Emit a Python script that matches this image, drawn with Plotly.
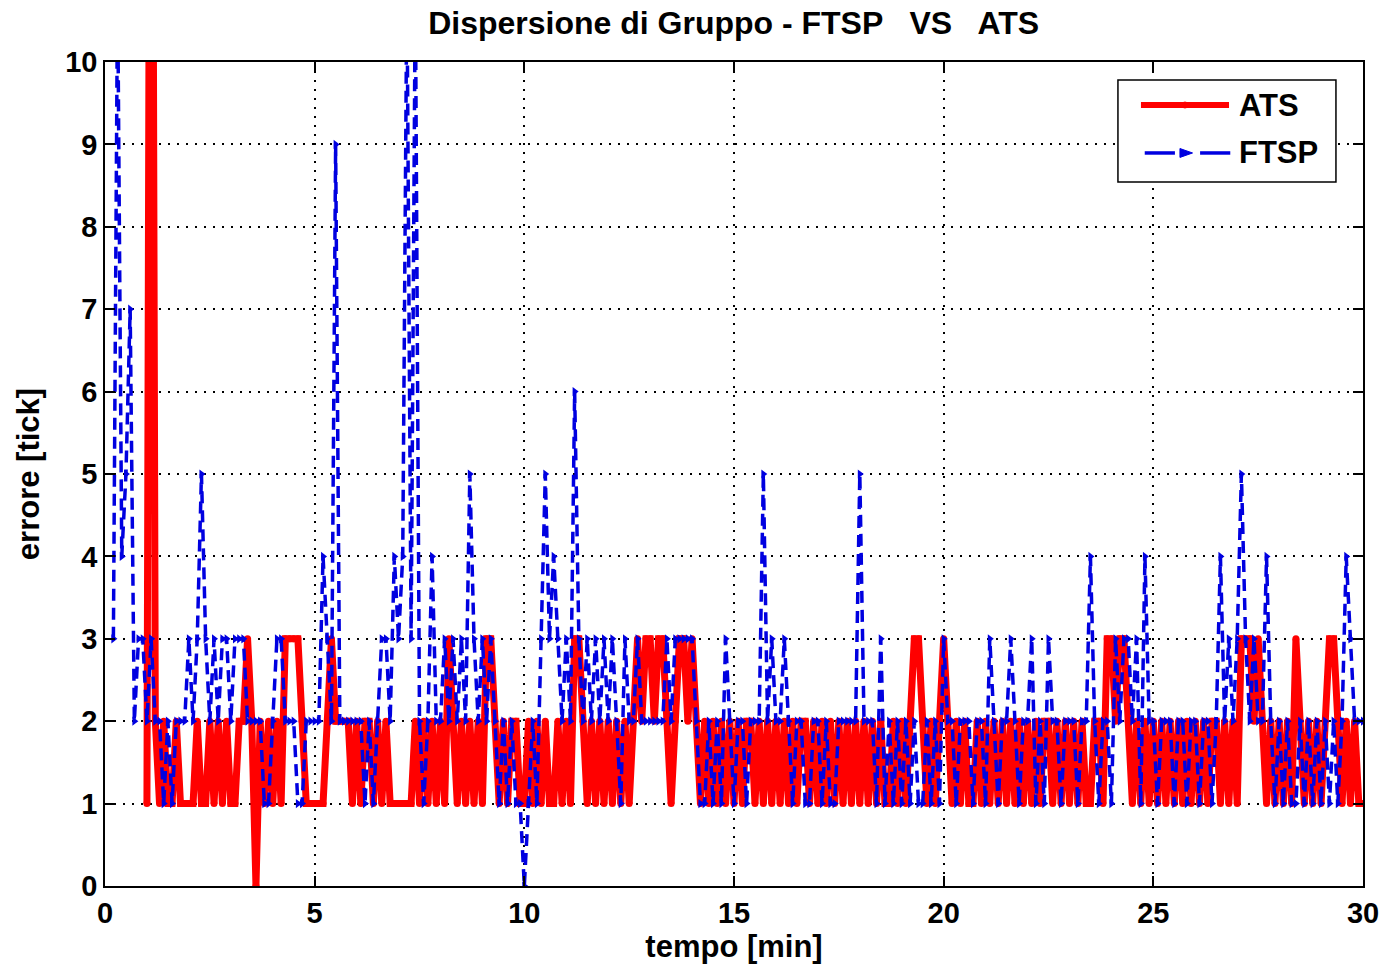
import plotly.graph_objects as go

ats_start = 1.0
ats_values = [
    1, 20, 2, 1, 2, 1, 1, 2, 1, 1,   # 1.0-1.9
    1, 1, 2, 1, 1, 2, 1, 2, 1, 2,    # 2
    1, 1, 2, 2, 3, 2, 0, 2, 1, 2,    # 3
    1, 2, 1, 3, 3, 3, 3, 2, 1, 1,    # 4
    1, 1, 1, 2, 3, 2, 2, 2, 2, 1,    # 5
    2, 1, 2, 2, 1, 2, 1, 2, 1, 1,    # 6
    1, 1, 1, 1, 2, 1, 2, 1, 2, 1,    # 7
    2, 1, 3, 2, 1, 2, 1, 2, 1, 2,    # 8
    1, 3, 3, 2, 1, 2, 1, 2, 2, 1,    # 9
    1, 2, 1, 2, 1, 2, 1, 1, 2, 1,    # 10
    2, 1, 3, 3, 2, 1, 2, 1, 2, 1,    # 11
    2, 1, 2, 1, 2, 1, 2, 3, 2, 3,    # 12
    3, 2, 3, 3, 2, 1, 2, 3, 3, 2,    # 13
    3, 2, 1, 2, 1, 2, 1, 2, 1, 2,    # 14
    1, 2, 1, 2, 2, 1, 2, 1, 2, 1,    # 15
    2, 1, 2, 1, 2, 1, 2, 2, 1, 2,    # 16
    1, 2, 1, 2, 1, 2, 1, 2, 1, 2,    # 17
    1, 2, 1, 2, 1, 2, 1, 1, 2, 1,    # 18
    2, 1, 2, 3, 3, 2, 1, 2, 1, 2,    # 19
    3, 2, 1, 2, 1, 2, 1, 1, 2, 1,    # 20
    2, 1, 2, 1, 2, 1, 2, 1, 2, 1,    # 21
    2, 1, 2, 1, 2, 2, 1, 2, 1, 2,    # 22
    1, 2, 1, 2, 1, 1, 2, 2, 1, 3,    # 23
    3, 2, 3, 3, 2, 1, 2, 1, 2, 1,    # 24
    2, 1, 2, 1, 2, 1, 2, 1, 2, 1,    # 25
    2, 1, 2, 1, 2, 2, 1, 2, 1, 2,    # 26
    1, 3, 3, 3, 2, 3, 2, 1, 2, 1,    # 27
    2, 1, 2, 1, 3, 2, 1, 2, 1, 2,    # 28
    1, 2, 3, 3, 2, 1, 2, 1, 2, 1,    # 29
    1,                               # 30.0
]

ftsp_start = 0.2
ftsp_values = [
    3, 11, 4, 5, 7, 2, 3, 3,         # 0.2-0.9
    2, 3, 2, 2, 1, 2, 1, 2, 2, 2,    # 1
    3, 2, 3, 5, 3, 2, 3, 2, 3, 3,    # 2
    2, 3, 3, 3, 2, 2, 2, 2, 1, 1,    # 3
    2, 3, 3, 2, 2, 2, 1, 1, 2, 2,    # 4
    2, 2, 4, 3, 2, 9, 2, 2, 2, 2,    # 5
    2, 2, 1, 2, 1, 2, 3, 3, 2, 4,    # 6
    3, 4, 11, 3, 11, 2, 1, 2, 4, 2,  # 7
    2, 3, 2, 3, 2, 3, 2, 5, 3, 2,    # 8
    3, 2, 3, 2, 1, 2, 1, 2, 1, 1,    # 9
    0, 1, 2, 1, 3, 5, 3, 4, 3, 2,    # 10
    3, 2, 6, 3, 2, 3, 2, 3, 2, 3,    # 11
    2, 3, 2, 1, 3, 2, 2, 3, 2, 2,    # 12
    2, 2, 2, 2, 3, 2, 3, 3, 3, 3,    # 13
    3, 2, 1, 1, 2, 1, 2, 1, 3, 2,    # 14
    1, 2, 2, 1, 2, 2, 2, 5, 2, 3,    # 15
    2, 2, 3, 2, 1, 2, 2, 1, 1, 2,    # 16
    2, 1, 2, 1, 1, 2, 2, 2, 2, 2,    # 17
    5, 2, 2, 2, 1, 3, 1, 2, 1, 2,    # 18
    1, 2, 1, 2, 1, 1, 2, 1, 2, 1,    # 19
    3, 2, 2, 1, 2, 2, 2, 1, 2, 2,    # 20
    1, 3, 2, 1, 2, 2, 3, 2, 1, 2,    # 21
    2, 3, 1, 2, 1, 3, 2, 2, 1, 2,    # 22
    2, 2, 1, 2, 2, 4, 2, 1, 2, 2,    # 23
    1, 3, 2, 3, 3, 2, 3, 1, 4, 2,    # 24
    2, 1, 2, 2, 2, 1, 2, 2, 1, 2,    # 25
    2, 1, 2, 2, 1, 2, 4, 2, 3, 2,    # 26
    3, 5, 3, 2, 3, 2, 2, 4, 2, 1,    # 27
    2, 1, 2, 1, 1, 2, 1, 2, 1, 2,    # 28
    1, 2, 1, 2, 1, 2, 4, 3, 2, 2,    # 29
    2,                               # 30.0
]

step = 0.1
x_ticks = [0, 5, 10, 15, 20, 25, 30]
y_ticks = [0, 1, 2, 3, 4, 5, 6, 7, 8, 9, 10]
series_names = ["ATS", "FTSP"]

ats_t = [round(ats_start + i * step, 2) for i in range(len(ats_values))]
ftsp_t = [round(ftsp_start + i * step, 2) for i in range(len(ftsp_values))]

FONT = "Liberation Sans, Arial, sans-serif"
RED = "#FF0000"
BLUE = "#0000E0"

fig = go.Figure()
fig.add_trace(go.Scatter(
    x=ats_t, y=ats_values, name=series_names[0], mode="lines+markers",
    line=dict(color=RED, width=7),
    marker=dict(color=RED, size=7, symbol="circle"),
    showlegend=False,
))
fig.add_trace(go.Scatter(
    x=ftsp_t, y=ftsp_values, name=series_names[1], mode="lines+markers",
    line=dict(color=BLUE, width=3.5, dash="12px,7px"),
    marker=dict(color=BLUE, size=8, symbol="triangle-right"),
    showlegend=False,
))

axis_common = dict(
    showline=True, linecolor="black", linewidth=1.5, mirror="ticks",
    ticks="inside", ticklen=10, tickcolor="black", tickwidth=1.5,
    showgrid=True, gridcolor="black", griddash="2px,7px", gridwidth=1.5,
    zeroline=False, automargin=False,
    tickfont=dict(family=FONT, size=29, color="black", weight="bold"),
)

# ---- custom MATLAB-like legend (paper coordinates) ----
shapes = [
    dict(type="rect", xref="paper", yref="paper", x0=0.8052, x1=0.9785,
         y0=0.8544, y1=0.9782, line=dict(color="black", width=1.5),
         fillcolor="white", layer="above"),
    dict(type="line", xref="paper", yref="paper", x0=0.8235, x1=0.8935,
         y0=0.9478, y1=0.9478, line=dict(color=RED, width=6), layer="above"),
    dict(type="circle", xref="paper", yref="paper", x0=0.8555, x1=0.8615,
         y0=0.9442, y1=0.9514, fillcolor=RED, line=dict(color=RED, width=1),
         layer="above"),
    dict(type="line", xref="paper", yref="paper", x0=0.8265, x1=0.8505,
         y0=0.8896, y1=0.8896, line=dict(color=BLUE, width=3.5), layer="above"),
    dict(type="line", xref="paper", yref="paper", x0=0.8705, x1=0.8945,
         y0=0.8896, y1=0.8896, line=dict(color=BLUE, width=3.5), layer="above"),
    dict(type="path", xref="paper", yref="paper",
         path="M 0.8545 0.8950 L 0.8545 0.8842 L 0.8645 0.8896 Z",
         fillcolor=BLUE, line=dict(color=BLUE, width=1), layer="above"),
    dict(type="line", xref="paper", yref="paper", x0=0.8545, x1=0.8590,
         y0=0.8896, y1=0.8896, line=dict(color=BLUE, width=3.5), layer="above"),
]
annotations = [
    dict(text=series_names[0], xref="paper", yref="paper", x=0.8995, y=0.9478,
         xanchor="left", yanchor="middle", showarrow=False,
         font=dict(family=FONT, size=31, color="black", weight="bold")),
    dict(text=series_names[1], xref="paper", yref="paper", x=0.8995, y=0.8896,
         xanchor="left", yanchor="middle", showarrow=False,
         font=dict(family=FONT, size=31, color="black", weight="bold")),
]

fig.update_layout(
    width=1383, height=970,
    margin=dict(l=105, r=20, t=62, b=84, autoexpand=False),
    paper_bgcolor="white", plot_bgcolor="white",
    title=dict(text="Dispersione di Gruppo - FTSP &nbsp; VS &nbsp; ATS",
               x=0.5305, xanchor="center", y=0.977, yanchor="middle",
               yref="container",
               font=dict(family=FONT, size=32, color="black", weight="bold")),
    xaxis=dict(range=[0, 30], tickvals=x_ticks,
               title=dict(text="tempo [min]", standoff=3,
                          font=dict(family=FONT, size=31, color="black", weight="bold")),
               **axis_common),
    yaxis=dict(range=[0, 10], tickvals=y_ticks,
               title=dict(text="errore [tick]", standoff=16,
                          font=dict(family=FONT, size=31, color="black", weight="bold")),
               **axis_common),
    shapes=shapes,
    annotations=annotations,
    showlegend=False,
)

fig.write_html(
    "out.html",
    config={"displayModeBar": False},
    post_script="document.body.style.margin='0';document.body.style.overflow='hidden';",
)
